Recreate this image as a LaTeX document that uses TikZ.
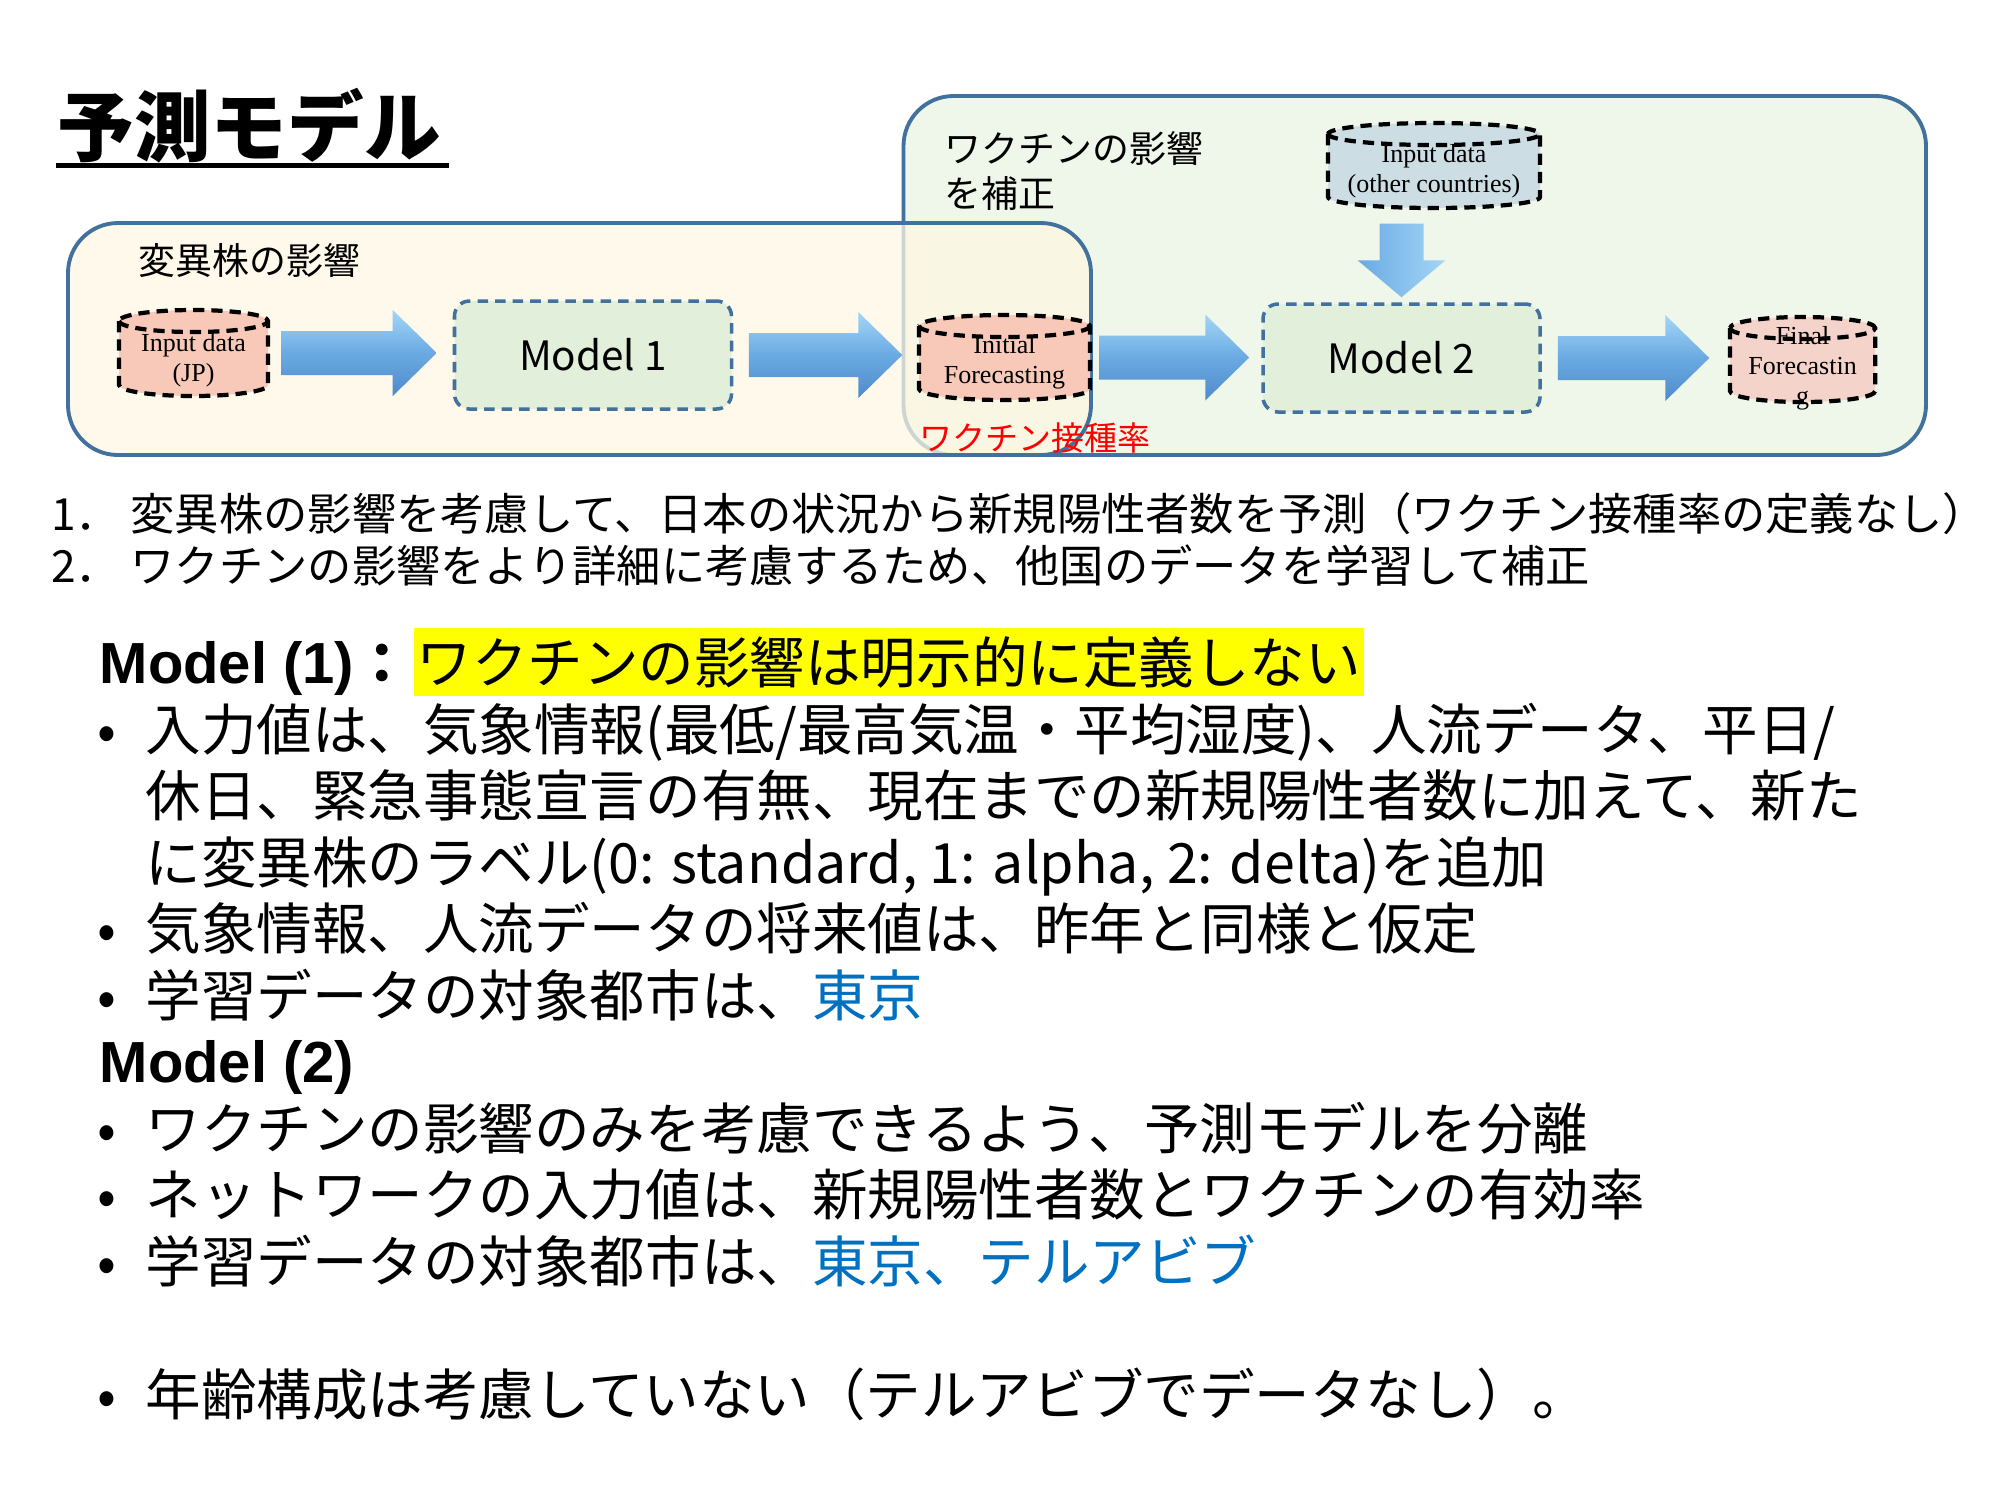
\documentclass[tikz,border=0pt]{standalone}
\usepackage{fontspec}
\setmainfont{Noto Sans CJK JP}
\newfontfamily\serifrm{Liberation Serif}
\newfontfamily\arialsans{Liberation Sans}
\usetikzlibrary{calc}

\definecolor{boxblue}{HTML}{41719C}
\definecolor{greenfill}{HTML}{EFF6EA}
\definecolor{yellowfill}{HTML}{FEF7E3}
\definecolor{modelfill}{HTML}{E2EFDA}
\definecolor{salmon}{HTML}{F8C9B8}
\definecolor{salmonlight}{HTML}{F4D4CA}
\definecolor{grayblue}{HTML}{CCDDE4}
\definecolor{arrowlight}{HTML}{A3D6F7}
\definecolor{arrowmid}{HTML}{6AAAE2}
\definecolor{arrowdark}{HTML}{4F8ACB}
\definecolor{linkblue}{HTML}{0070C0}
\definecolor{markyellow}{HTML}{FFFF00}

% cylinder: name, cx, cy, rx, half height, fill
\newcommand\mycyl[6]{%
  \draw[cylline, fill=#6] ({#2-#4},{#3+#5-0.11}) -- ({#2-#4},{#3-#5+0.11})
    arc[start angle=180, end angle=360, x radius=#4, y radius=0.11]
    -- ({#2+#4},{#3+#5-0.11})
    arc[start angle=0, end angle=180, x radius=#4, y radius=0.11] -- cycle;
  \draw[cylline] ({#2-#4},{#3+#5-0.11})
    arc[start angle=180, end angle=360, x radius=#4, y radius=0.11];
  \node[inner sep=0, minimum width={2*#4cm}, minimum height={2*#5cm}] (#1) at (#2,#3) {};
}
% horizontal block arrow: from node, to node, gap at start, gap at end
\newcommand\myharrow[4]{%
  \path[arrowbody] let \p1=($(#1.east)+(#3,0)$), \p2=($(#2.west)-(#4,0)$) in
    (\x1,{\y1+0.22cm}) -- ({\x2-0.44cm},{\y1+0.22cm}) -- ({\x2-0.44cm},{\y1+0.43cm})
    -- (\x2,\y1) -- ({\x2-0.44cm},{\y1-0.43cm}) -- ({\x2-0.44cm},{\y1-0.22cm})
    -- (\x1,{\y1-0.22cm}) -- cycle;}
% vertical block arrow
\newcommand\myvarrow[4]{%
  \path[varrowbody] let \p1=($(#1.south)-(0,#3)$), \p2=($(#2.north)+(0,#4)$) in
    ({\x2-0.22cm},\y1) -- ({\x2-0.22cm},{\y2+0.37cm}) -- ({\x2-0.44cm},{\y2+0.37cm})
    -- (\x2,\y2) -- ({\x2+0.44cm},{\y2+0.37cm}) -- ({\x2+0.22cm},{\y2+0.37cm})
    -- ({\x2+0.22cm},\y1) -- cycle;}

\begin{document}
\begin{tikzpicture}[
  groupbox/.style={draw=boxblue, line width=1.1pt, rounded corners=0.5cm},
  modelbox/.style={draw=boxblue, fill=modelfill, line width=1pt, dash pattern=on 3pt off 2pt,
    rounded corners=0.15cm, minimum height=1.08cm, inner sep=0,
    font=\fontsize{11.5}{13}\selectfont},
  cylline/.style={draw=black, line width=1.2pt, dash pattern=on 3.2pt off 2pt},
  cyltext/.style={font=\serifrm\fontsize{7.4}{8.5}\selectfont, align=center, inner sep=0},
  arrowbody/.style={top color=arrowlight, bottom color=arrowdark, middle color=arrowmid},
  varrowbody/.style={left color=arrowmid, right color=arrowlight},
  boxlabel/.style={font=\fontsize{10.5}{12.8}\selectfont, anchor=base west, inner sep=0},
  numtext/.style={font=\fontsize{12.6}{15}\selectfont, anchor=base west, inner sep=0},
  bodytext/.style={font=\fontsize{15.8}{19}\selectfont, anchor=base west, inner sep=0},
  bulletmark/.style={font=\fontsize{15.8}{19}\selectfont, anchor=base, inner sep=0},
  headtext/.style={font=\bfseries\fontsize{15.8}{19}\selectfont, anchor=base west, inner sep=0},
]
\useasboundingbox (0,0) rectangle (20,-15);
\fill[white] (0,0) rectangle (20,-15);

% title
\node[font=\bfseries\fontsize{21.8}{26}\selectfont, anchor=base west, inner sep=0] (title) at (0.57,-1.55) {予測モデル};
\draw[line width=1.42pt] ($(title.base west)+(-0.01,-0.105)$) -- ($(title.base east)+(0.07,-0.105)$);

% group boxes
\draw[groupbox, fill=greenfill] (9.035,-0.96) rectangle (19.26,-4.55);
\draw[groupbox, fill=yellowfill, fill opacity=0.75] (0.68,-2.23) rectangle (10.91,-4.55);

\node[boxlabel] (lblvar) at (1.38,-2.74) {変異株の影響};
\node[boxlabel] (lblvac1) at (9.44,-1.62) {ワクチンの影響};
\node[boxlabel] (lblvac2) at (9.44,-2.07) {を補正};

% cylinders
\mycyl{jp}{1.935}{-3.53}{0.745}{0.43}{salmon}
\mycyl{init}{10.045}{-3.575}{0.855}{0.425}{salmon}
\mycyl{final}{18.026}{-3.595}{0.726}{0.425}{salmonlight}
\mycyl{other}{14.34}{-1.655}{1.06}{0.425}{grayblue}

\node[cyltext] (jpt) at (1.935,-3.605) {Input data\\(JP)};
\node[cyltext] (initt) at (10.045,-3.625) {Initial\\Forecasting};
\node[cyltext] (othert) at (14.34,-1.715) {Input data\\(other countries)};
\node[cyltext] (finalt) at (18.026,-3.68) {Final\\Forecastin\\g};

% model boxes
\node[modelbox, minimum width=2.77cm] (m1) at (5.93,-3.55) {Model 1};
\node[modelbox, minimum width=2.77cm] (m2) at (14.015,-3.58) {Model 2};

% arrows
\myharrow{jp}{m1}{0.126}{0.16}
\myharrow{m1}{init}{0.155}{0.16}
\myharrow{init}{m2}{0.085}{0.12}
\myharrow{m2}{final}{0.16}{0.20}
\myvarrow{other}{m2}{0.15}{0.05}

\node[font=\fontsize{9.4}{11}\selectfont, text=red, anchor=base west, inner sep=0] (rate) at (9.19,-4.505) {ワクチン接種率};

% numbered lines
\node[numtext] (n1) at (0.505,-5.30) {1．};
\node[numtext] (t1) at (1.30,-5.30) {変異株の影響を考慮して、日本の状況から新規陽性者数を予測（ワクチン接種率の定義なし）};
\node[numtext] (n2) at (0.505,-5.82) {2．};
\node[numtext] (t2) at (1.30,-5.82) {ワクチンの影響をより詳細に考慮するため、他国のデータを学習して補正};

% Model (1)
\node[headtext] (h1) at (0.99,-6.83) {{\arialsans\fontsize{16.5}{19}\selectfont Model (1)}：};
\node[bodytext, fill=markyellow, text height=13.8pt, text depth=1.9pt, inner xsep=0.03cm, inner ysep=0.065cm] (hl) at (4.13,-6.83) {ワクチンの影響は明示的に定義しない};

\node[bulletmark] (b1) at (1.07,-7.50) {•};
\node[bodytext] (l1) at (1.45,-7.50) {入力値は、気象情報(最低/最高気温・平均湿度)、人流データ、平日/};
\node[bodytext] (l2) at (1.45,-8.165) {休日、緊急事態宣言の有無、現在までの新規陽性者数に加えて、新た};
\node[bodytext] (l3) at (1.45,-8.83) {に変異株のラベル(0: standard, 1: alpha, 2: delta)を追加};
\node[bulletmark] (b2) at (1.07,-9.495) {•};
\node[bodytext] (l4) at (1.45,-9.495) {気象情報、人流データの将来値は、昨年と同様と仮定};
\node[bulletmark] (b3) at (1.07,-10.16) {•};
\node[bodytext] (l5) at (1.45,-10.16) {学習データの対象都市は、\textcolor{linkblue}{東京}};

% Model (2)
\node[headtext] (h2) at (0.99,-10.82) {{\arialsans\fontsize{16.5}{19}\selectfont Model (2)}};
\node[bulletmark] (b4) at (1.07,-11.49) {•};
\node[bodytext] (l6) at (1.45,-11.49) {ワクチンの影響のみを考慮できるよう、予測モデルを分離};
\node[bulletmark] (b5) at (1.07,-12.155) {•};
\node[bodytext] (l7) at (1.45,-12.155) {ネットワークの入力値は、新規陽性者数とワクチンの有効率};
\node[bulletmark] (b6) at (1.07,-12.82) {•};
\node[bodytext] (l8) at (1.45,-12.82) {学習データの対象都市は、\textcolor{linkblue}{東京、テルアビブ}};

\node[bulletmark] (b7) at (1.07,-14.15) {•};
\node[bodytext] (l9) at (1.45,-14.15) {年齢構成は考慮していない（テルアビブでデータなし）。};
\end{tikzpicture}
\end{document}
